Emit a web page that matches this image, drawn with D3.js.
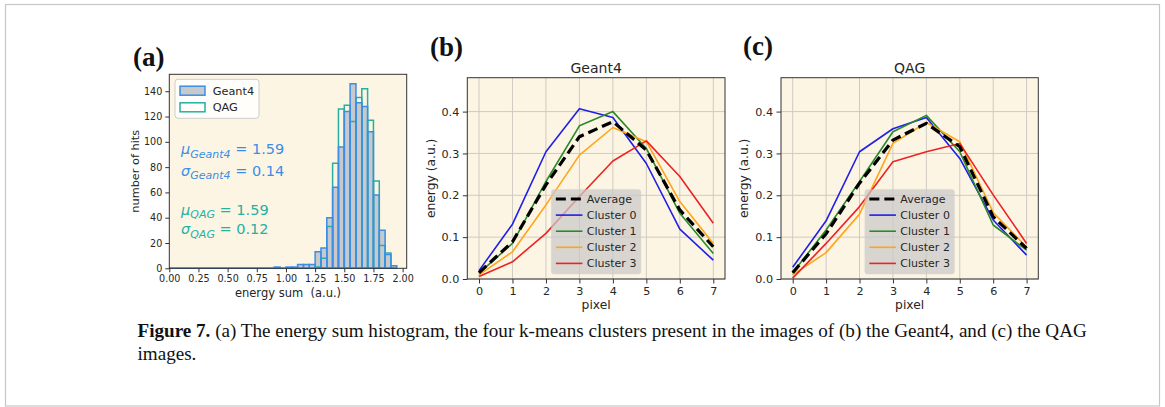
<!DOCTYPE html>
<html>
<head>
<meta charset="utf-8">
<script src="https://cdn.jsdelivr.net/npm/d3@7"></script>
<style>
  html, body { margin: 0; padding: 0; background: #ffffff; }
  svg { display: block; }
  text { white-space: pre; }
</style>
</head>
<body>
<svg id="fig" width="1165" height="407"></svg>
<script>
// ---------- data ----------
// energy-sum histogram: 0.05-wide bins starting at 0.00
const histBinWidth = 0.05;
const geant4Counts = [
  0, 0, 0, 0, 0, 0, 0, 0, 0, 0, 0, 0, 0, 0, 0, 0, 0, 0,
  1, 0, 1, 1, 3, 3, 3, 13, 16, 40, 64, 96, 124, 146, 131, 128, 108, 58, 30, 11, 2
];
const qagCounts = [
  0, 0, 0, 0, 0, 0, 0, 0, 0, 0, 0, 0, 0, 0, 0, 0, 0, 0,
  0, 0, 0, 0, 0, 0, 0, 1, 8, 33, 83, 126, 129, 116, 135, 142, 117, 69, 18, 12, 0
];
const histXTicks = [0, 0.25, 0.5, 0.75, 1.0, 1.25, 1.5, 1.75, 2.0];
const histYTicks = [0, 20, 40, 60, 80, 100, 120, 140];
const geant4Stats = { mu: "1.59", sigma: "0.14" };
const qagStats = { mu: "1.59", sigma: "0.12" };

// cluster profiles along the pixel axis
const pixels = [0, 1, 2, 3, 4, 5, 6, 7];
const seriesNames = ["Average", "Cluster 0", "Cluster 1", "Cluster 2", "Cluster 3"];

const geant4Average  = [0.015, 0.089, 0.225, 0.340, 0.376, 0.308, 0.165, 0.077];
const geant4Cluster0 = [0.020, 0.131, 0.304, 0.407, 0.386, 0.276, 0.119, 0.045];
const geant4Cluster1 = [0.014, 0.085, 0.233, 0.366, 0.400, 0.312, 0.157, 0.061];
const geant4Cluster2 = [0.010, 0.065, 0.177, 0.296, 0.362, 0.328, 0.185, 0.085];
const geant4Cluster3 = [0.006, 0.041, 0.109, 0.197, 0.282, 0.330, 0.245, 0.133];

const qagAverage  = [0.015, 0.108, 0.229, 0.332, 0.372, 0.316, 0.149, 0.073];
const qagCluster0 = [0.028, 0.139, 0.304, 0.359, 0.386, 0.288, 0.141, 0.057];
const qagCluster1 = [0.015, 0.117, 0.233, 0.352, 0.391, 0.304, 0.129, 0.069];
const qagCluster2 = [0.010, 0.063, 0.155, 0.324, 0.374, 0.328, 0.159, 0.076];
const qagCluster3 = [0.002, 0.085, 0.173, 0.280, 0.304, 0.324, 0.201, 0.085];

const profileYTicks = [0.0, 0.1, 0.2, 0.3, 0.4];

// ---------- style ----------
const FONT = "'DejaVu Sans', sans-serif";
const AX_BG = "#fdf5e4";
const BLUE_H = "#3a8ee6";
const GREEN_H = "#25b0a2";
const BAR_FILL = "#c7c9cd";
const TEXT = "#262626";
const seriesColors = ["#000000", "#1f1fe6", "#2a8a2a", "#ffa51a", "#ee2222"];

const svg = d3.select("#fig");

// outer frame
svg.append("rect")
  .attr("x", 5.5).attr("y", 4.5).attr("width", 1154).attr("height", 401.5)
  .attr("fill", "none").attr("stroke", "#c6c6c6").attr("stroke-width", 1.2);

function styleAxis(g, fontSize) {
  g.select(".domain").remove();
  g.selectAll(".tick line").attr("stroke", "#333").attr("stroke-width", 1);
  g.selectAll(".tick text").attr("fill", TEXT).style("font-family", FONT).style("font-size", fontSize + "px");
}

function panelLabel(text, x, y) {
  svg.append("text").attr("x", x).attr("y", y).text(text)
    .style("font-family", "'Liberation Serif', serif").style("font-weight", "bold")
    .style("font-size", "27px").attr("fill", "#111");
}

// ---------- (a) histogram ----------
(function histogramPanel() {
  const box = { left: 169.3, right: 406.7, top: 74.3, bottom: 268.3 };
  const x = d3.scaleLinear().domain([0, 2.035]).range([box.left, box.right]);
  const y = d3.scaleLinear().domain([0, 153.4]).range([box.bottom, box.top]);
  const g = svg.append("g");

  g.append("rect").attr("x", box.left).attr("y", box.top)
    .attr("width", box.right - box.left).attr("height", box.bottom - box.top).attr("fill", AX_BG);

  const barPath = (c, i) => {
    const x0 = x(i * histBinWidth), x1 = x((i + 1) * histBinWidth);
    return `M${x0},${y(0)}V${y(c)}H${x1}V${y(0)}Z`;
  };

  // Geant4 fill, then QAG outlines, then Geant4 outlines on top
  g.append("g").selectAll("path").data(geant4Counts).join("path")
    .attr("d", barPath).attr("fill", BAR_FILL).attr("stroke", "none");
  g.append("g").selectAll("path").data(qagCounts).join("path")
    .attr("d", barPath).attr("fill", "none").attr("stroke", GREEN_H).attr("stroke-width", 1.5);
  g.append("g").selectAll("path").data(geant4Counts).join("path")
    .attr("d", barPath).attr("fill", "none").attr("stroke", BLUE_H).attr("stroke-width", 1.5);

  g.append("rect").attr("x", box.left).attr("y", box.top)
    .attr("width", box.right - box.left).attr("height", box.bottom - box.top)
    .attr("fill", "none").attr("stroke", "#333").attr("stroke-width", 1);

  const xa = g.append("g").attr("transform", `translate(0,${box.bottom})`)
    .call(d3.axisBottom(x).tickValues(histXTicks).tickFormat(d3.format(".2f")).tickSize(4).tickPadding(3));
  styleAxis(xa, 9.6);
  const ya = g.append("g").attr("transform", `translate(${box.left},0)`)
    .call(d3.axisLeft(y).tickValues(histYTicks).tickSize(4).tickPadding(3));
  styleAxis(ya, 9.6);

  g.append("text").attr("x", (box.left + box.right) / 2).attr("y", 297)
    .attr("text-anchor", "middle").text("energy sum  (a.u.)")
    .style("font-family", FONT).style("font-size", "11.5px").attr("fill", TEXT);
  g.append("text").attr("transform", `translate(139,${(box.top + box.bottom) / 2}) rotate(-90)`)
    .attr("text-anchor", "middle").text("number of hits")
    .style("font-family", FONT).style("font-size", "11.3px").attr("fill", TEXT);

  // legend
  const lg = g.append("g").attr("transform", "translate(175,79.3)");
  lg.append("rect").attr("width", 84).attr("height", 39).attr("rx", 3)
    .attr("fill", "#ffffff").attr("fill-opacity", 0.85).attr("stroke", "#cccccc");
  const entries = [
    { name: "Geant4", fill: BAR_FILL, stroke: BLUE_H },
    { name: "QAG", fill: "none", stroke: GREEN_H }
  ];
  entries.forEach((e, i) => {
    const cy = 11.4 + i * 16.6;
    lg.append("rect").attr("x", 5).attr("y", cy - 4.5).attr("width", 25).attr("height", 9)
      .attr("fill", e.fill).attr("stroke", e.stroke).attr("stroke-width", 1.5);
    lg.append("text").attr("x", 37.7).attr("y", cy + 4).text(e.name)
      .style("font-family", FONT).style("font-size", "11.3px").attr("fill", TEXT);
  });

  // summary statistics
  function stat(sym, sub, val, color, baseline) {
    const t = g.append("text").attr("x", 181).attr("y", baseline)
      .style("font-family", FONT).attr("fill", color);
    t.append("tspan").text(sym).style("font-style", "italic").style("font-size", "14.5px");
    t.append("tspan").text(sub).style("font-style", "italic").style("font-size", "11px").attr("dy", 3.5);
    t.append("tspan").text(" = " + val).style("font-size", "14.5px").attr("dy", -3.5);
  }
  stat("μ", "Geant4", geant4Stats.mu, BLUE_H, 154);
  stat("σ", "Geant4", geant4Stats.sigma, BLUE_H, 175.5);
  stat("μ", "QAG", qagStats.mu, GREEN_H, 214.5);
  stat("σ", "QAG", qagStats.sigma, GREEN_H, 234);
})();

// ---------- (b), (c) cluster profiles ----------
function profilePanel(box, title, series) {
  const x = d3.scaleLinear().domain([-0.35, 7.35]).range([box.left, box.right]);
  const y = d3.scaleLinear().domain([0, 0.481]).range([box.bottom, box.top]);
  const g = svg.append("g");

  g.append("rect").attr("x", box.left).attr("y", box.top)
    .attr("width", box.right - box.left).attr("height", box.bottom - box.top).attr("fill", AX_BG);

  // grid
  g.append("g").selectAll("line").data(pixels).join("line")
    .attr("x1", d => x(d)).attr("x2", d => x(d)).attr("y1", box.top).attr("y2", box.bottom)
    .attr("stroke", "#cfcac2").attr("stroke-width", 1);
  g.append("g").selectAll("line").data(profileYTicks).join("line")
    .attr("x1", box.left).attr("x2", box.right).attr("y1", d => y(d)).attr("y2", d => y(d))
    .attr("stroke", "#cfcac2").attr("stroke-width", 1);

  const line = d3.line().x((d, i) => x(pixels[i])).y(d => y(d));
  // clusters first, average dashed on top
  const order = [1, 2, 3, 4, 0];
  order.forEach(k => {
    g.append("path").attr("d", line(series[k])).attr("fill", "none")
      .attr("stroke", seriesColors[k])
      .attr("stroke-width", k === 0 ? 3.2 : 1.6)
      .attr("stroke-dasharray", k === 0 ? "10,5" : null)
      .attr("stroke-linejoin", "round");
  });

  g.append("rect").attr("x", box.left).attr("y", box.top)
    .attr("width", box.right - box.left).attr("height", box.bottom - box.top)
    .attr("fill", "none").attr("stroke", "#333").attr("stroke-width", 1);

  const xa = g.append("g").attr("transform", `translate(0,${box.bottom})`)
    .call(d3.axisBottom(x).tickValues(pixels).tickFormat(d3.format("d")).tickSize(4.5).tickPadding(3.5));
  styleAxis(xa, 11.2);
  const ya = g.append("g").attr("transform", `translate(${box.left},0)`)
    .call(d3.axisLeft(y).tickValues(profileYTicks).tickFormat(d3.format(".1f")).tickSize(4.5).tickPadding(3.5));
  styleAxis(ya, 11.2);

  const cx = (box.left + box.right) / 2;
  g.append("text").attr("x", cx).attr("y", 73).attr("text-anchor", "middle").text(title)
    .style("font-family", FONT).style("font-size", "14px").attr("fill", TEXT);
  g.append("text").attr("x", cx).attr("y", 309).attr("text-anchor", "middle").text("pixel")
    .style("font-family", FONT).style("font-size", "12.3px").attr("fill", TEXT);
  g.append("text").attr("transform", `translate(${box.left - 37},${(box.top + box.bottom) / 2}) rotate(-90)`)
    .attr("text-anchor", "middle").attr("dy", "0.35em").text("energy (a.u.)")
    .style("font-family", FONT).style("font-size", "12.3px").attr("fill", TEXT);

  // legend, lower centre
  const lw = 90, lh = 85;
  const lg = g.append("g").attr("transform", `translate(${cx - lw / 2},${box.bottom - 4.7 - lh})`);
  lg.append("rect").attr("width", lw).attr("height", lh).attr("rx", 3)
    .attr("fill", "#c9c9c9").attr("fill-opacity", 0.72);
  seriesNames.forEach((name, k) => {
    const cy = 9.7 + k * 16.1;
    lg.append("line").attr("x1", 4.7).attr("x2", 31.3).attr("y1", cy).attr("y2", cy)
      .attr("stroke", seriesColors[k]).attr("stroke-width", k === 0 ? 3.2 : 1.6)
      .attr("stroke-dasharray", k === 0 ? "10,5" : null);
    lg.append("text").attr("x", 35.7).attr("y", cy + 4).text(name)
      .style("font-family", FONT).style("font-size", "11px").attr("fill", TEXT);
  });
}

profilePanel({ left: 467.3, right: 725, top: 77.7, bottom: 279 }, "Geant4",
  [geant4Average, geant4Cluster0, geant4Cluster1, geant4Cluster2, geant4Cluster3]);
profilePanel({ left: 781, right: 1038.3, top: 77.7, bottom: 279 }, "QAG",
  [qagAverage, qagCluster0, qagCluster1, qagCluster2, qagCluster3]);

panelLabel("(a)", 133, 65.5);
panelLabel("(b)", 430, 55.5);
panelLabel("(c)", 743, 55);

// ---------- caption ----------
const cap = svg.append("g");
const capStyle = s => s.style("font-family", "'Liberation Serif', serif").style("font-size", "19.5px").attr("fill", "#111");
const l1 = cap.append("text").attr("x", 0).attr("y", 0).call(capStyle);
l1.append("tspan").text("Figure 7.").style("font-weight", "bold");
l1.append("tspan").text(" (a) The energy sum histogram, the four k-means clusters present in the images of (b) the Geant4, and (c) the QAG");
const l2 = cap.append("text").attr("x", 0).attr("y", 23).text("images.").call(capStyle);
const natural = l1.node().getComputedTextLength();
const sx = 950 / natural;
cap.attr("transform", `translate(137.5,337) scale(${sx},1)`);
</script>
</body>
</html>
